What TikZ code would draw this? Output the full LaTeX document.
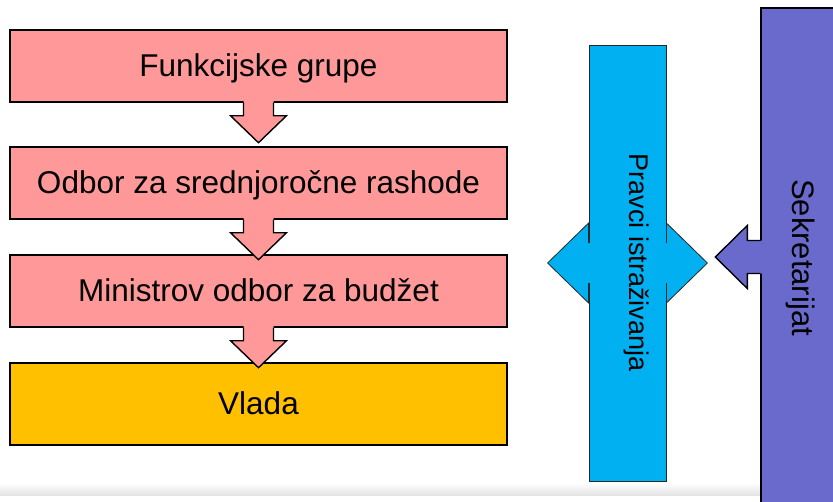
\documentclass[tikz,border=0pt]{standalone}
\usepackage{fontspec}
\setmainfont{Liberation Sans}
\usetikzlibrary{calc}

\definecolor{boxpink}{HTML}{FF9999}
\definecolor{govorange}{HTML}{FFC000}
\definecolor{resblue}{HTML}{00B0F0}
\definecolor{secpurple}{RGB}{106,106,204}

% block arrow pointing down from one stage box to the next
\newcommand{\stagearrow}[2]{%
  \coordinate (tip) at ($(#1.south)!40pt!(#2.north)$);
  \fill[boxpink] ($(#1.south)+(-15,-3)$) -- ($(#1.south)+(-15,13)$)
    -- ($(#1.south)+(-28,13)$) -- (tip) -- ($(#1.south)+(28,13)$)
    -- ($(#1.south)+(15,13)$) -- ($(#1.south)+(15,-3)$) -- cycle;
  \draw[arrowline] ($(#1.south)+(-15,0)$) -- ($(#1.south)+(-15,13)$)
    -- ($(#1.south)+(-28,13)$) -- (tip) -- ($(#1.south)+(28,13)$)
    -- ($(#1.south)+(15,13)$) -- ($(#1.south)+(15,0)$);
}

\begin{document}
\begin{tikzpicture}[x=1pt,y=-1pt,
  stagebox/.style={draw=black, line width=1.4pt, fill=boxpink,
    minimum width=497pt, minimum height=72pt, inner sep=0pt,
    text height=21pt, text depth=0pt, font=\fontsize{31.5}{38}\selectfont},
  arrowline/.style={draw=black, line width=1.4pt, line join=miter},
  sidelabel/.style={rotate=-90, inner sep=0pt, text height=20pt,
    text depth=0pt, font=\fontsize{31}{37}\selectfont}]

\useasboundingbox (0,0) rectangle (833,501);
\clip (0,0) rectangle (833,501);

% faint footer band
\shade[top color=white, bottom color=black!11] (0,483) rectangle (833,495);

% stages of the budget process
\node[stagebox] (fg) at (258.5,66) {Funkcijske grupe};
\node[stagebox] (odbor) at (258.5,183) {Odbor za srednjoročne rashode};
\node[stagebox] (ministar) at (258.5,291) {Ministrov odbor za budžet};
\node[stagebox, fill=govorange, minimum height=82pt] (vlada) at (258.5,404) {Vlada};

\stagearrow{fg}{odbor}
\stagearrow{odbor}{ministar}
\stagearrow{ministar}{vlada}

% research directions column with a two-way arrow
\node[draw=black!85, line width=0.8pt, fill=resblue, minimum width=77pt,
  minimum height=436pt, inner sep=0pt] (pravci) at (627.5,263) {};
\fill[resblue] ($(pravci.west)+(0,-20)$) -- ($(pravci.west)+(0,-40)$)
  -- ($(pravci.west)+(-41,0)$) -- ($(pravci.west)+(0,40)$)
  -- ($(pravci.west)+(0,20)$) -- ($(pravci.east)+(0,20)$)
  -- ($(pravci.east)+(0,40)$) -- ($(pravci.east)+(41,0)$)
  -- ($(pravci.east)+(0,-40)$) -- ($(pravci.east)+(0,-20)$) -- cycle;
\draw[black!85, line width=0.8pt] ($(pravci.west)+(0,-20)$) -- ($(pravci.west)+(0,-40)$)
  -- ($(pravci.west)+(-41,0)$) -- ($(pravci.west)+(0,40)$) -- ($(pravci.west)+(0,20)$);
\draw[black!85, line width=0.8pt] ($(pravci.east)+(0,-20)$) -- ($(pravci.east)+(0,-40)$)
  -- ($(pravci.east)+(41,0)$) -- ($(pravci.east)+(0,40)$) -- ($(pravci.east)+(0,20)$);
\node[sidelabel, text height=18pt, font=\fontsize{27}{32}\selectfont]
  (pravcitext) at (638.5,262.5) {Pravci istraživanja};

% secretariat column with an arrow pointing left
\node[draw=black, line width=1.4pt, fill=secpurple, minimum width=89pt,
  minimum height=498pt, inner sep=0pt] (sek) at (805.5,257) {};
\fill[secpurple] ($(sek.west)+(3,-16.5)$) -- ($(sek.west)+(-13,-16.5)$)
  -- ($(sek.west)+(-13,-31.5)$) -- ($(sek.west)+(-45,0)$)
  -- ($(sek.west)+(-13,31.5)$) -- ($(sek.west)+(-13,16.5)$)
  -- ($(sek.west)+(3,16.5)$) -- cycle;
\draw[arrowline] ($(sek.west)+(0,-16.5)$) -- ($(sek.west)+(-13,-16.5)$)
  -- ($(sek.west)+(-13,-31.5)$) -- ($(sek.west)+(-45,0)$)
  -- ($(sek.west)+(-13,31.5)$) -- ($(sek.west)+(-13,16.5)$)
  -- ($(sek.west)+(0,16.5)$);
\node[sidelabel] (sektext) at (802,257.5) {Sekretarijat};

\end{tikzpicture}
\end{document}
